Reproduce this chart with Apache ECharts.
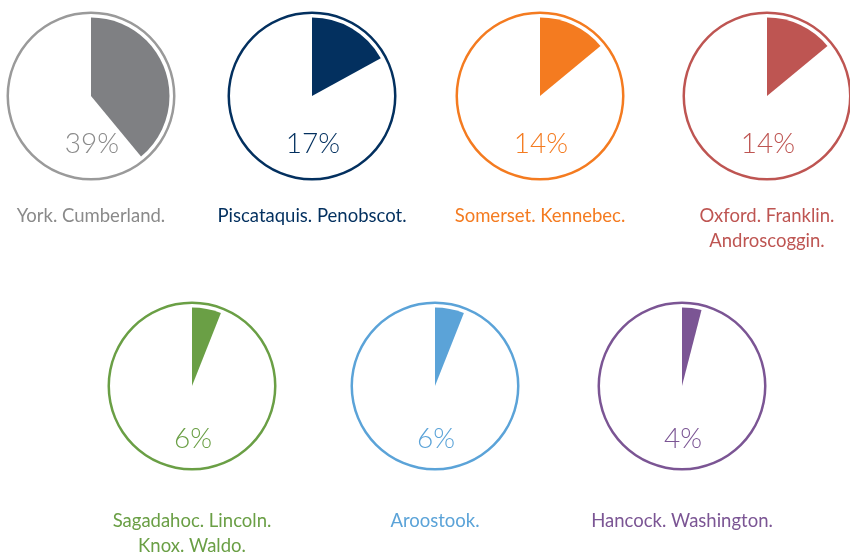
<!DOCTYPE html>
<html>
<head>
<meta charset="utf-8">
<script src="https://cdn.jsdelivr.net/npm/echarts@6/dist/echarts.min.js"></script>
<style>html,body{margin:0;padding:0;background:#fff}#c{width:850px;height:556px}</style>
</head>
<body>
<div id="c"></div>
<script>
var regions = ['York. Cumberland.', 'Piscataquis. Penobscot.', 'Somerset. Kennebec.', 'Oxford. Franklin.\nAndroscoggin.', 'Sagadahoc. Lincoln.\nKnox. Waldo.', 'Aroostook.', 'Hancock. Washington.'];
var shares = [39, 17, 14, 14, 6, 6, 4];
var colors = ['#7F8083', '#03305F', '#F47B20', '#BE5552', '#6A9F45', '#5BA3D8', '#7B5594'];
var ringColors = ['#9A9A9A', '#03305F', '#F47B20', '#BE5552', '#6A9F45', '#5BA3D8', '#7B5594'];
var textColors = ['#8A8A8A', '#03305F', '#F47B20', '#BE5552', '#6A9F45', '#5BA3D8', '#7B5594'];

var centers = [[91, 96], [312, 96], [540, 96], [767, 96], [192, 386], [435, 386], [682, 386]];
var FONT = 'Lato';

var series = [];
var titles = [];
regions.forEach(function (name, i) {
  var c = centers[i];
  series.push({
    type: 'pie', silent: true, center: c, radius: [82, 84.5],
    label: { show: false }, labelLine: { show: false },
    data: [{ value: 1, itemStyle: { color: ringColors[i] } }]
  });
  series.push({
    type: 'pie', silent: true, center: c, radius: [0, 78.5],
    startAngle: 90, clockwise: true,
    label: { show: false }, labelLine: { show: false },
    data: [
      { value: shares[i], name: name, itemStyle: { color: colors[i] } },
      { value: 100 - shares[i], itemStyle: { color: 'rgba(0,0,0,0)' } }
    ]
  });
  titles.push({
    text: shares[i] + '%', padding: 0,
    left: c[0] + 1, top: c[1] + (i < 4 ? 48 : 53),
    textAlign: 'center', textVerticalAlign: 'middle',
    textStyle: { fontFamily: FONT, fontWeight: 300, fontSize: 28, color: textColors[i] }
  });
  titles.push({
    text: name, padding: 0,
    left: c[0], top: c[1] + (i < 4 ? 108 : 123),
    textAlign: 'center',
    textStyle: { fontFamily: FONT, fontWeight: 'normal', fontSize: 18.5, lineHeight: 25, color: textColors[i], align: 'center' }
  });
});

var chart = echarts.init(document.getElementById('c'), null, { renderer: 'canvas' });
chart.setOption({ animation: false, title: titles, series: series });
</script>
</body>
</html>
